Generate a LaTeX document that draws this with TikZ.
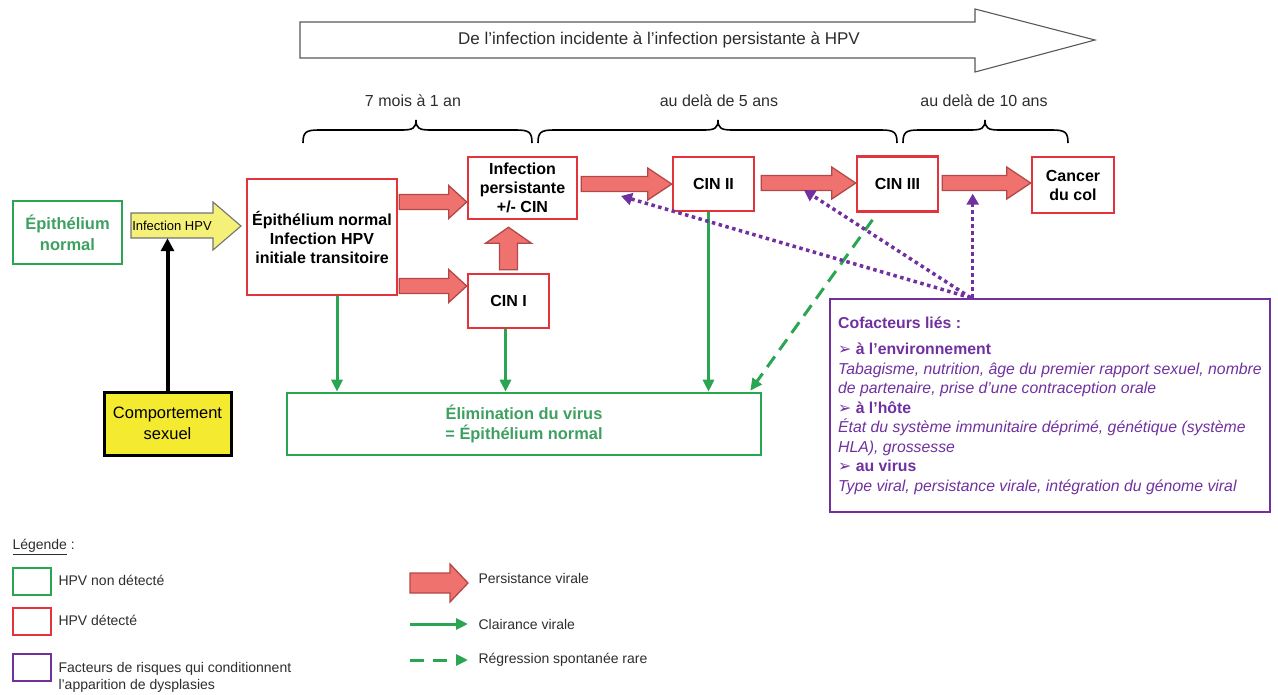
\documentclass[tikz,border=0pt]{standalone}
\usepackage{fontspec}
\setmainfont{Liberation Sans}
\newfontfamily\dejavu{DejaVu Sans}
\usetikzlibrary{arrows.meta,calc}
\definecolor{redB}{RGB}{226,52,58}
\definecolor{arrF}{RGB}{240,114,110}
\definecolor{arrD}{RGB}{178,72,72}
\definecolor{grn}{RGB}{42,165,82}
\definecolor{grnT}{RGB}{62,160,96}
\definecolor{purp}{RGB}{112,48,160}
\definecolor{yelB}{RGB}{244,234,48}
\definecolor{yelA}{RGB}{244,240,120}
\definecolor{txtG}{RGB}{45,45,45}
\newcommand\fatarrow[5]{%
  \coordinate (fa-h) at ($(#2)!#5pt!(#1)$);
  \draw[fatar] ($(#1)!#3pt!90:(#2)$) -- ($(fa-h)!#3pt!-90:(#1)$) -- ($(fa-h)!#4pt!-90:(#1)$) -- (#2)
    -- ($(fa-h)!#4pt!90:(#1)$) -- ($(fa-h)!#3pt!90:(#1)$) -- ($(#1)!#3pt!-90:(#2)$) -- cycle;}
\newcommand\hbrace[3]{%
  \draw[bracestyle] (#1,143) .. controls (#1,132) and (#1+3,130) .. (#1+16,130) -- (#2-14,130)
    .. controls (#2-3,130) and (#2,128) .. (#2,120) .. controls (#2,128) and (#2+3,130) .. (#2+14,130)
    -- (#3-16,130) .. controls (#3-3,130) and (#3,132) .. (#3,143);}
\begin{document}
\begin{tikzpicture}[x=1pt,y=-1pt,
  box/.style={draw, line width=2.6pt, inner sep=2pt, align=center,
    font=\fontsize{16}{19}\selectfont\bfseries},
  redbox/.style={box, draw=redB, text=black},
  greenbox/.style={box, draw=grn, text=grnT},
  fatar/.style={fill=arrF, draw=arrD, line width=1.3pt, line join=miter},
  garr/.style={draw=grn, line width=3pt, -{Triangle[width=11pt,length=12pt]}},
  gdash/.style={garr, dash pattern=on 13pt off 8pt},
  parr/.style={draw=purp, line width=3.5pt, dash pattern=on 3.5pt off 3.5pt, -{Triangle[width=12pt,length=11pt]}},
  blk/.style={draw=black, line width=4pt, -{Triangle[width=13pt,length=13pt]}},
  bracestyle/.style={draw=black, line width=1.6pt},
  lbl/.style={text=txtG, font=\fontsize{16}{18}\selectfont},
  leg/.style={text=txtG, font=\fontsize{14}{17}\selectfont, anchor=west, align=left},
  legbox/.style={draw, line width=2.4pt, minimum width=38pt, minimum height=27pt, inner sep=0pt, anchor=north west}
  ]
\useasboundingbox (0,0) rectangle (1278,694);

% top arrow
\draw[draw=black!65, line width=1.1pt, fill=white]
  (300,22) -- (975,22) -- (975,9) -- (1095,40) -- (975,72) -- (975,58) -- (300,58) -- cycle;
\node[lbl, font=\fontsize{17}{19}\selectfont] (title) at (659,40) {De l'infection incidente à l'infection persistante à HPV};

% braces
\hbrace{303}{416}{532}
\hbrace{538}{718}{897}
\hbrace{903}{985}{1068}
\node[lbl] (t1) at (413,101) {7 mois à 1 an};
\node[lbl] (t2) at (719,101) {au delà de 5 ans};
\node[lbl] (t3) at (984,101) {au delà de 10 ans};

% boxes
\node[greenbox, minimum width=109pt, minimum height=63pt, font=\fontsize{16.5}{21}\selectfont\bfseries] (g1) at (67.5,232.5) {Épithélium\\normal};
\node[redbox, minimum width=150pt, minimum height=116pt] (b1) at (322,237) {Épithélium normal\\Infection HPV\\initiale transitoire};
\node[redbox, minimum width=109pt, minimum height=62pt] (pers) at (522.5,188) {Infection\\persistante\\+/- CIN};
\node[redbox, minimum width=81pt, minimum height=54pt] (cin1) at (508.5,301) {CIN I};
\node[redbox, minimum width=81pt, minimum height=54pt] (cin2) at (713.5,184) {CIN II};
\node[redbox, minimum width=81pt, minimum height=55pt] (cin3) at (897.5,184) {CIN III};
\node[redbox, minimum width=82pt, minimum height=56pt] (cancer) at (1073,185) {Cancer\\du col};
\node[greenbox, minimum width=474pt, minimum height=62pt, font=\fontsize{16.4}{20}\selectfont\bfseries] (elim) at (524,424) {Élimination du virus\\= Épithélium normal};
\node[draw=black, line width=3pt, fill=yelB, minimum width=127pt, minimum height=63pt, align=center,
  font=\fontsize{16.5}{21}\selectfont] (comp) at (167.5,423.5) {Comportement\\sexuel};

% yellow arrow
\draw[fill=yelA, draw=black!55, line width=1.1pt]
  (131,213) -- (213,213) -- (213,202) -- (241,226) -- (213,250) -- (213,238) -- (131,238) -- cycle;
\node[minimum width=82pt, minimum height=25pt, inner sep=0pt, font=\fontsize{13}{15}\selectfont] (yarr) at (172,225.5) {Infection HPV};
\draw[blk] (comp.north) -- (comp.north |- yarr.south);

% cofactors box
\node[draw=purp, line width=2.6pt, minimum width=440pt, minimum height=213pt, align=left, text=purp,
  font=\fontsize{15.8}{19.5}\selectfont] (cof) at (1050,405.5) {%
  {\bfseries Cofacteurs liés :}\\[7pt]
  {\bfseries{\dejavu\bfseries ➢} à l'environnement}\\
  {\itshape Tabagisme, nutrition, âge du premier rapport sexuel, nombre}\\
  {\itshape de partenaire, prise d'une contraception orale}\\
  {\bfseries{\dejavu\bfseries ➢} à l'hôte}\\
  {\itshape État du système immunitaire déprimé, génétique (système}\\
  {\itshape HLA), grossesse}\\
  {\bfseries{\dejavu\bfseries ➢} au virus}\\
  {\itshape Type viral, persistance virale, intégration du génome viral}};

% red persistence arrows
\coordinate (r1s) at ($(b1.east)+(1,-35)$);
\coordinate (r1e) at (pers.west |- r1s);
\fatarrow{r1s}{r1e}{7.5}{16.5}{18}
\coordinate (r2s) at ($(b1.east)+(1,49)$);
\coordinate (r2e) at (cin1.west |- r2s);
\fatarrow{r2s}{r2e}{7.5}{16.5}{18}
\coordinate (r3s) at ($(cin1.north)+(0,-3)$);
\coordinate (r3e) at ($(r3s |- pers.south)+(0,7)$);
\fatarrow{r3s}{r3e}{9}{23}{16}
\coordinate (r4s) at ($(pers.east)+(3,-4)$);
\coordinate (r4e) at (cin2.west |- r4s);
\fatarrow{r4s}{r4e}{7.5}{16}{24}
\coordinate (r5s) at ($(cin2.east)+(6,-1)$);
\coordinate (r5e) at (cin3.west |- r5s);
\fatarrow{r5s}{r5e}{7.5}{16}{24}
\coordinate (r6s) at ($(cin3.east)+(3,-1)$);
\coordinate (r6e) at (cancer.west |- r6s);
\fatarrow{r6s}{r6e}{7.5}{16}{24}

% green clearance arrows
\coordinate (g1s) at ($(b1.south)+(15,0)$);
\draw[garr] (g1s) -- (g1s |- elim.north);
\coordinate (g2s) at ($(cin1.south)+(-3,0)$);
\draw[garr] (g2s) -- (g2s |- elim.north);
\coordinate (g3s) at ($(cin2.south)+(-5,0)$);
\draw[garr] (g3s) -- (g3s |- elim.north);
\coordinate (gds) at ($(cin3.south)+(-25,7)$);
\coordinate (gde) at ($(elim.north east)+(-12,-1)$);
\draw[gdash] (gds) -- (gde);

% purple cofactor arrows
\coordinate (pf) at ($(cof.north west)+(142,0)$);
\coordinate (pt1) at (621,196);
\coordinate (pt2) at (804,190);
\coordinate (pf3) at ($(cof.north west)+(144,0)$);
\coordinate (pt3) at ($(pf3)+(0,-104)$);
\draw[parr] (pf) -- (pt1);
\draw[parr] (pf) -- (pt2);
\draw[parr] (pf3) -- (pt3);

% legend
\node[leg] (legT) at (9,547) {\underline{Légende} :};
\node[legbox, draw=grn] (lg1) at (12,567) {};
\node[legbox, draw=redB] (lg2) at (12,607) {};
\node[legbox, draw=purp] (lg3) at (12,653) {};
\node[leg] (lt1) at (55,580) {HPV non détecté};
\node[leg] (lt2) at (55,620) {HPV détecté};
\node[leg, font=\fontsize{14}{17}\selectfont] (lt3) at (55,677) {Facteurs de risques qui conditionnent\\l'apparition de dysplasies};
\coordinate (la1s) at (410,583);
\coordinate (la1e) at (468,583);
\fatarrow{la1s}{la1e}{10}{19}{18}
\coordinate (la2s) at (410,624);
\coordinate (la2e) at (468,624);
\draw[garr] (la2s) -- (la2e);
\coordinate (la3s) at (410,660);
\coordinate (la3e) at (468,660);
\draw[gdash, dash pattern=on 14pt off 9pt] (la3s) -- (la3e);
\node[leg] (lt4) at (475,578) {Persistance virale};
\node[leg] (lt5) at (475,624) {Clairance virale};
\node[leg] (lt6) at (475,660) {Régression spontanée rare};
\end{tikzpicture}
\end{document}
